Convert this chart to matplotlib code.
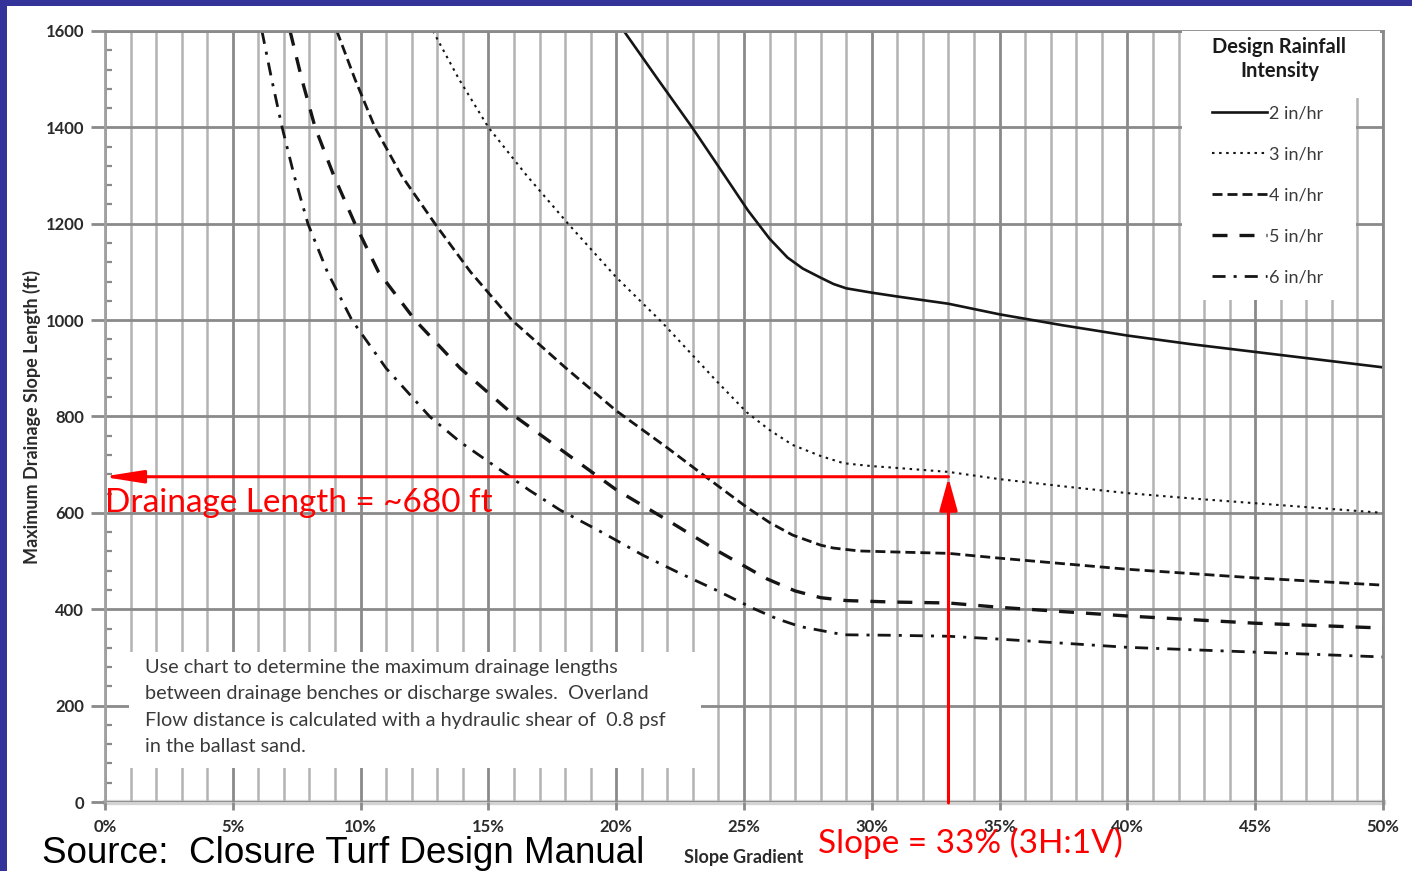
import matplotlib
matplotlib.use('Agg')
import matplotlib.pyplot as plt
from matplotlib.patches import Rectangle
from matplotlib.ticker import MultipleLocator, FuncFormatter

# ---------------- data ----------------
series_labels = ['2 in/hr', '3 in/hr', '4 in/hr', '5 in/hr', '6 in/hr']

slope_2 = [20.3, 21.6, 22.97, 24.0, 25.15, 26.0, 26.7, 27.3, 28.0, 28.5, 29.0, 30.0,
           31.0, 33.0, 35.0, 37.5, 40.0, 42.5, 45.0, 47.5, 50.0]
length_2 = [1600, 1502, 1400, 1319, 1228, 1169, 1130, 1107, 1088, 1075, 1066, 1057,
            1049, 1034, 1012, 989, 968, 950, 934, 918, 902]

slope_3 = [12.83, 13.85, 15.0, 16.5, 18.12, 20.0, 21.8, 23.9, 25.1, 26.0, 26.9, 28.0,
           28.9, 30.0, 30.8, 33.0, 35.0, 37.5, 40.0, 42.5, 45.0, 47.5, 50.0]
length_3 = [1600, 1500, 1400, 1300, 1200, 1089, 995, 875, 809, 772, 741, 718,
            703, 697, 694, 685, 670, 655, 641, 630, 620, 610, 600]

slope_4 = [9.07, 9.78, 10.56, 11.6, 12.91, 14.3, 15.92, 18.0, 20.0, 22.0, 23.5,
           25.1, 26.0, 26.9, 28.0, 28.5, 29.5, 30.8, 33.0, 35.0, 40.0, 45.0, 50.0]
length_4 = [1600, 1500, 1400, 1300, 1200, 1100, 1000, 902, 812, 735, 675,
            612, 580, 554, 533, 527, 521, 519, 516, 506, 483, 465, 450]

slope_5 = [7.24, 7.70, 8.22, 8.95, 9.78, 10.7, 12.13, 13.9, 16.1, 18.0, 20.0, 22.0,
           24.0, 25.9, 27.0, 28.0, 29.0, 30.8, 33.0, 35.0, 40.0, 45.0, 50.0]
length_5 = [1600, 1500, 1400, 1300, 1200, 1100, 1000, 900, 798, 725, 648, 585,
            520, 463, 438, 424, 418, 415, 413, 404, 386, 371, 361]

slope_6 = [6.14, 6.52, 6.93, 7.4, 7.94, 8.7, 9.66, 11.0, 12.7, 13.9, 15.2, 16.6,
           17.8, 19.5, 21.05, 22.4, 23.9, 25.35, 26.3, 27.2, 28.9, 30.8, 33.0,
           35.0, 40.0, 45.0, 50.0]
length_6 = [1600, 1500, 1400, 1300, 1200, 1100, 1000, 900, 800, 747, 699, 647,
            606, 558, 512, 477, 440, 402, 380, 364, 347, 346, 344,
            338, 321, 311, 301]

x_ticks = [0, 5, 10, 15, 20, 25, 30, 35, 40, 45, 50]
y_ticks = [0, 200, 400, 600, 800, 1000, 1200, 1400, 1600]

design_slope = 33        # %
design_length = 675      # ft

note_lines = ['Use chart to determine the maximum drainage lengths',
              'between drainage benches or discharge swales.  Overland',
              'Flow distance is calculated with a hydraulic shear of  0.8 psf',
              'in the ballast sand.']

# ---------------- figure ----------------
W, H = 1412, 871
fig = plt.figure(figsize=(W / 100, H / 100), dpi=100)
fig.patch.set_facecolor('#333399')
fig.add_artist(Rectangle((7 / W, 0), 1, 1 - 6 / H, transform=fig.transFigure,
                         facecolor='white', edgecolor='none', zorder=-10))

def fx(px):
    return px / W

def fy(py):
    return 1 - py / H

FONT = ['Lato', 'DejaVu Sans']

ax = fig.add_axes([fx(105), fy(802), (1383 - 105) / W, (802 - 31) / H])
ax.set_xlim(0, 50)
ax.set_ylim(0, 1600)
ax.set_axisbelow(True)

ax.set_xticks(x_ticks)
ax.set_yticks(y_ticks)
ax.xaxis.set_minor_locator(MultipleLocator(1))
ax.yaxis.set_minor_locator(MultipleLocator(40))
ax.xaxis.set_major_formatter(FuncFormatter(lambda v, p: f'{int(round(v))}%'))

major_c = '#8a8a8a'
minor_c = '#b3b3b3'
ax.grid(which='major', axis='both', color=major_c, lw=2.0)
ax.grid(which='minor', axis='x', color=minor_c, lw=1.8)

for s in ['top', 'right']:
    ax.spines[s].set_color(major_c)
    ax.spines[s].set_linewidth(2.0)
ax.spines['left'].set_color('#a0a0a0')
ax.spines['left'].set_linewidth(2.0)
ax.spines['bottom'].set_visible(False)
ax.axhline(0, color='#d3d3d3', lw=3.8, zorder=0.3, clip_on=False)

ax.tick_params(axis='y', which='major', direction='out', length=10, width=2,
               color=major_c, pad=5, labelcolor='#2a2a2a')
ax.tick_params(axis='y', which='minor', direction='in', length=5, width=1.6,
               color=major_c)
ax.tick_params(axis='x', which='major', direction='out', length=6, width=2,
               color=major_c, pad=6, labelcolor='#2a2a2a')
ax.tick_params(axis='x', which='minor', length=0)
for lab in ax.get_xticklabels() + ax.get_yticklabels():
    lab.set_fontfamily(FONT)
    lab.set_fontweight('bold')
    lab.set_fontsize(12)

# ---------------- curves ----------------
line_c = '#151515'
h2, = ax.plot(slope_2, length_2, color=line_c, lw=1.9, solid_joinstyle='round')
h3, = ax.plot(slope_3, length_3, color=line_c, lw=1.5, dashes=(1.2, 2.2))
h4, = ax.plot(slope_4, length_4, color=line_c, lw=2.0, dashes=(3.6, 1.8))
h5, = ax.plot(slope_5, length_5, color=line_c, lw=2.4, dashes=(4.5, 3.6))
h6, = ax.plot(slope_6, length_6, color=line_c, lw=2.0, dashes=(4.7, 2.9, 1.1, 2.9))

# ---------------- note box ----------------
ax.add_patch(Rectangle((0.95, 70), 23.3 - 0.95, 311 - 70, facecolor='white',
                       edgecolor='none', zorder=1))
for i, line in enumerate(note_lines):
    fig.text(fx(145), fy(668 + 26 * i), line, ha='left', va='center',
             family=FONT, size=14.3, color='#3a3a3a')

# ---------------- legend ----------------
for (x0, y0, x1, y1) in [(1182, 26, 1356, 300), (1355, 26, 1380, 98)]:
    ax.add_patch(Rectangle((fx(x0), fy(y1)), (x1 - x0) / W, (y1 - y0) / H,
                           transform=fig.transFigure, facecolor='white',
                           edgecolor='none', zorder=3))
leg = ax.legend([h2, h3, h4, h5, h6], series_labels, title='Design Rainfall\nIntensity',
                loc='upper left', bbox_to_anchor=(fx(1198), fy(23)),
                bbox_transform=fig.transFigure, frameon=False, alignment='left',
                handlelength=3.0, handletextpad=0.15, labelspacing=1.38,
                borderpad=0.3, prop=dict(family=FONT, size=13))
leg.set_zorder(6)
t = leg.get_title()
t.set_fontfamily(FONT)
t.set_fontweight('bold')
t.set_fontsize(14.5)
t.set_multialignment('center')
t.set_color('#1a1a1a')
for txt in leg.get_texts():
    txt.set_color('#3a3a3a')

# ---------------- red annotations ----------------
red = '#ff0000'
ax.annotate('', xy=(-0.1, design_length), xytext=(design_slope, design_length),
            arrowprops=dict(arrowstyle='-|>,head_length=2.4,head_width=0.38',
                            color=red, lw=2.2, shrinkA=0, shrinkB=0),
            annotation_clip=False, zorder=7)
ax.annotate('', xy=(design_slope, design_length - 2), xytext=(design_slope, -2),
            arrowprops=dict(arrowstyle='-|>,head_length=2.0,head_width=0.55',
                            color=red, lw=2.2, shrinkA=0, shrinkB=0),
            annotation_clip=False, zorder=7)

fig.text(fx(105), fy(503), 'Drainage Length = ~680 ft', ha='left', va='center',
         family=FONT, size=24, color=red)
fig.text(fx(818), fy(843), 'Slope = 33% (3H:1V)', ha='left', va='center',
         family=FONT, size=24, color=red)

# ---------------- axis titles & source ----------------
fig.text(fx(32), fy(417), 'Maximum Drainage Slope Length (ft)', rotation=90,
         ha='center', va='center', family=FONT, weight='bold',
         size=13, color='#2a2a2a')
fig.text(fx(744), fy(857), 'Slope Gradient', ha='center', va='center',
         family=FONT, weight='bold', size=13, color='#2a2a2a')
fig.text(fx(42), fy(863), 'Source:  Closure Turf Design Manual', ha='left',
         va='baseline', family=['Liberation Sans', 'DejaVu Sans'], size=26.5,
         color='black')

fig.savefig('out.png', dpi=100, facecolor=fig.get_facecolor())
